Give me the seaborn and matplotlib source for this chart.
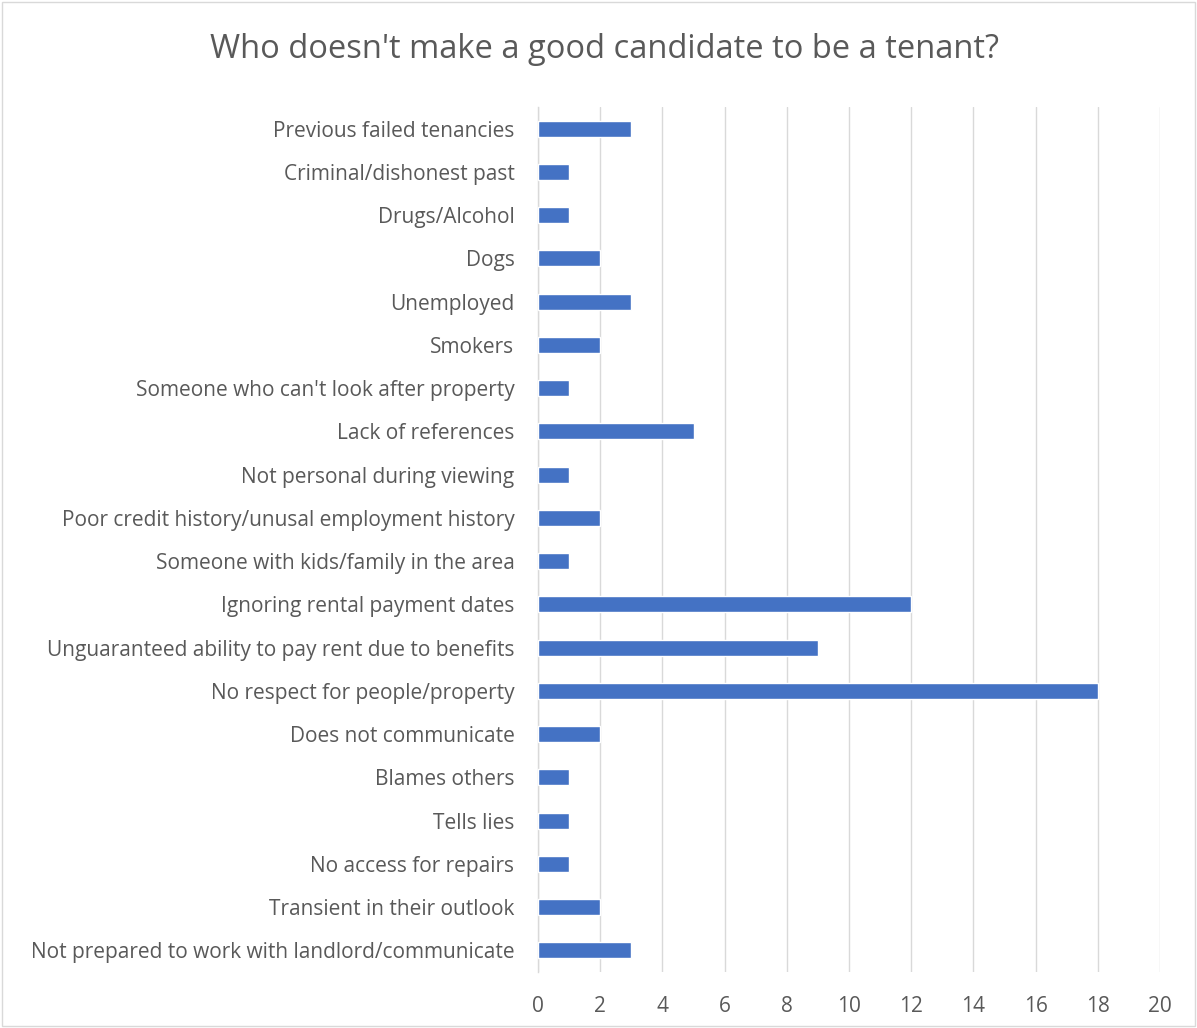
import matplotlib
matplotlib.use("Agg")
import matplotlib.pyplot as plt
import seaborn as sns
import pandas as pd

categories = [
    "Previous failed tenancies",
    "Criminal/dishonest past",
    "Drugs/Alcohol",
    "Dogs",
    "Unemployed",
    "Smokers",
    "Someone who can't look after property",
    "Lack of references",
    "Not personal during viewing",
    "Poor credit history/unusal employment history",
    "Someone with kids/family in the area",
    "Ignoring rental payment dates",
    "Unguaranteed ability to pay rent due to benefits",
    "No respect for people/property",
    "Does not communicate",
    "Blames others",
    "Tells lies",
    "No access for repairs",
    "Transient in their outlook",
    "Not prepared to work with landlord/communicate",
]
values = [3, 1, 1, 2, 3, 2, 1, 5, 1, 2, 1, 12, 9, 18, 2, 1, 1, 1, 2, 3]
x_ticks = list(range(0, 21, 2))
title = "Who doesn't make a good candidate to be a tenant?"

sns.set_theme(style="white")
plt.rcParams["font.family"] = ["Open Sans", "DejaVu Sans"]

df = pd.DataFrame({"category": categories, "value": values})

fig = plt.figure(figsize=(11.97, 10.28), dpi=100)
ax = fig.add_axes([538/1197, 56/1028, (1160-538)/1197, (972-107)/1028])

sns.barplot(data=df, x="value", y="category", orient="h", color="#4472C4",
            width=0.37, saturation=1, ax=ax, zorder=3)

ax.set_xlim(0, 20)
ax.set_xticks(x_ticks)
ax.set_xticklabels([str(t) for t in x_ticks], fontsize=15, color="#595959")
ax.tick_params(axis="y", labelsize=15, labelcolor="#595959", length=0, pad=17)
ax.tick_params(axis="x", length=0, pad=17)
ax.set_xlabel("")
ax.set_ylabel("")
ax.xaxis.grid(True, color="#D9D9D9", linewidth=1, zorder=0)
ax.set_axisbelow(True)
for side in ["top", "right", "bottom"]:
    ax.spines[side].set_visible(False)
ax.spines["left"].set_color("#D9D9D9")
ax.spines["left"].set_linewidth(1)

fig.text(605/1197, 1 - 50/1028, title, ha="center", va="center",
         fontsize=23.5, color="#595959")

fig.patches.append(plt.Rectangle((0.002, 0.002), 0.996, 0.996, transform=fig.transFigure,
                                 fill=False, edgecolor="#D9D9D9", linewidth=1))

fig.savefig("out.png", dpi=100)
